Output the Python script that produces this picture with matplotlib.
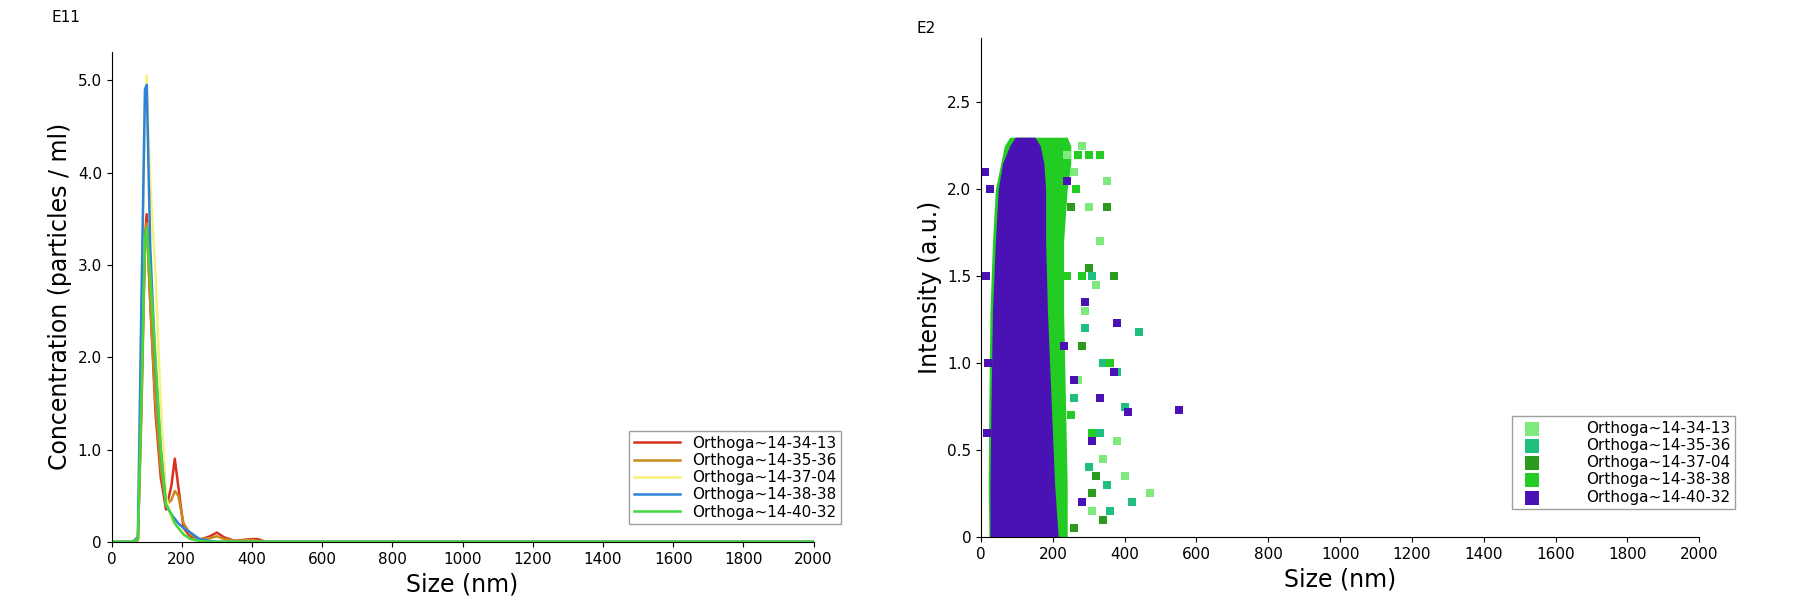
import numpy as np
import matplotlib.pyplot as plt

# ---- left panel: size distributions ----
size_nm = [0, 60, 75, 85, 95, 100, 110, 125, 140, 155, 170, 180, 190, 205, 225, 250, 280, 300, 320, 350, 400, 415, 440, 2000]
conc_red = [0, 0, 0.02, 1.5, 3.3, 3.55, 2.6, 1.4, 0.7, 0.35, 0.6, 0.9, 0.6, 0.15, 0.05, 0.02, 0.06, 0.1, 0.05, 0.01, 0.03, 0.03, 0, 0]
conc_orange = [0, 0, 0.02, 1.4, 3.2, 3.45, 2.6, 1.5, 0.8, 0.4, 0.45, 0.55, 0.5, 0.2, 0.08, 0.03, 0.04, 0.06, 0.03, 0.01, 0.02, 0.01, 0, 0]
conc_yellow = [0, 0, 0.05, 2.5, 4.7, 5.05, 3.9, 2.9, 1.5, 0.5, 0.25, 0.2, 0.15, 0.08, 0.03, 0.01, 0, 0, 0, 0, 0, 0, 0, 0]
conc_blue = [0, 0, 0.05, 2.6, 4.9, 4.95, 3.2, 1.9, 1.0, 0.4, 0.3, 0.25, 0.2, 0.15, 0.1, 0.03, 0.01, 0, 0, 0, 0, 0, 0, 0]
conc_green = [0, 0, 0.03, 1.6, 3.3, 3.4, 2.9, 2.0, 1.0, 0.4, 0.3, 0.2, 0.15, 0.08, 0.03, 0.01, 0, 0, 0, 0, 0, 0, 0, 0]
line_names = ['Orthoga~14-34-13', 'Orthoga~14-35-36', 'Orthoga~14-37-04', 'Orthoga~14-38-38', 'Orthoga~14-40-32']
line_colors = ['#d8321e', '#c88a1c', '#f6f07c', '#2e82d8', '#44d83c']

# ---- right panel: intensity vs size ----
# dense core outline (left/right edges at each intensity level)
core_y = [0, 0.3, 0.8, 1.3, 1.7, 2.0, 2.15, 2.25, 2.3]
core_purple_left = [25, 25, 28, 32, 40, 48, 60, 80, 95]
core_purple_right = [215, 205, 195, 185, 180, 180, 175, 165, 150]
core_green_left = [22, 20, 22, 25, 32, 40, 55, 65, 80]
core_green_right = [240, 240, 235, 230, 230, 240, 250, 250, 240]
# scattered points per series
pts_light = ([240, 260, 300, 320, 330, 350, 290, 270, 380, 400, 470, 340, 310, 280],
             [2.2, 2.1, 1.9, 1.45, 1.7, 2.05, 1.3, 0.9, 0.55, 0.35, 0.25, 0.45, 0.15, 2.25])
pts_teal = ([290, 340, 400, 440, 380, 330, 300, 260, 350, 420, 310, 360],
            [1.2, 1.0, 0.75, 1.18, 0.95, 0.6, 0.4, 0.8, 0.3, 0.2, 1.5, 0.15])
pts_dark = ([250, 300, 350, 320, 280, 370, 260, 310, 340],
            [1.9, 1.55, 1.9, 0.35, 1.1, 1.5, 0.05, 0.25, 0.1])
pts_green = ([230, 270, 240, 300, 330, 250, 280, 310, 360, 265],
             [2.25, 2.2, 1.5, 2.2, 2.2, 0.7, 1.5, 0.6, 1.0, 2.0])
pts_purple = ([10, 15, 20, 18, 25, 230, 260, 290, 310, 370, 380, 410, 550, 240, 280, 330],
              [2.1, 1.5, 1.0, 0.6, 2.0, 1.1, 0.9, 1.35, 0.55, 0.95, 1.23, 0.72, 0.73, 2.05, 0.2, 0.8])
scatter_colors = ['#7eea7e', '#1fbf80', '#2c9a1c', '#22cc22', '#4a12b4']

fig = plt.figure(figsize=(18, 6.15), dpi=100)

ax1 = fig.add_axes([0.062, 0.119, 0.39, 0.797])
for ys, c, n in zip([conc_red, conc_orange, conc_yellow, conc_blue, conc_green], line_colors, line_names):
    ax1.plot(size_nm, ys, color=c, lw=1.8, label=n)
ax1.set_xlim(0, 2000)
ax1.set_ylim(0, 5.31)
ax1.set_xticks(range(0, 2001, 200))
ax1.set_yticks([0, 1, 2, 3, 4, 5])
ax1.set_yticklabels(['0', '1.0', '2.0', '3.0', '4.0', '5.0'])
ax1.set_xlabel('Size (nm)', fontsize=17)
ax1.set_ylabel('Concentration (particles / ml)', fontsize=17)
ax1.text(-0.085, 1.06, 'E11', transform=ax1.transAxes, fontsize=11)
ax1.legend(loc='lower right', bbox_to_anchor=(1.05, 0.02), fontsize=11, fancybox=False,
           edgecolor='#888888', handlelength=3, borderpad=0.3, labelspacing=0.15)

ax2 = fig.add_axes([0.545, 0.127, 0.399, 0.811])
ax2.fill_betweenx(core_y, core_green_left, core_green_right, color=scatter_colors[3], lw=0)
ax2.fill_betweenx(core_y, core_purple_left, core_purple_right, color=scatter_colors[4], lw=0)
for (px, py), c, n in zip([pts_light, pts_teal, pts_dark, pts_green, pts_purple], scatter_colors, line_names):
    ax2.scatter(px, py, marker='s', s=40, color=c, lw=0, label=n)
ax2.set_xlim(0, 2000)
ax2.set_ylim(0, 2.87)
ax2.set_xticks(range(0, 2001, 200))
ax2.set_yticks([0, 0.5, 1.0, 1.5, 2.0, 2.5])
ax2.set_yticklabels(['0', '0.5', '1.0', '1.5', '2.0', '2.5'])
ax2.set_xlabel('Size (nm)', fontsize=17)
ax2.set_ylabel('Intensity (a.u.)', fontsize=17)
ax2.text(-0.09, 1.01, 'E2', transform=ax2.transAxes, fontsize=11)
ax2.legend(loc='lower right', bbox_to_anchor=(1.06, 0.04), fontsize=11, fancybox=False,
           edgecolor='#888888', markerscale=1.6, handletextpad=2.5, borderpad=0.3, labelspacing=0.15)

for ax in (ax1, ax2):
    ax.spines['top'].set_visible(False)
    ax.spines['right'].set_visible(False)
    ax.tick_params(labelsize=11)

fig.savefig('out.png', dpi=100)
